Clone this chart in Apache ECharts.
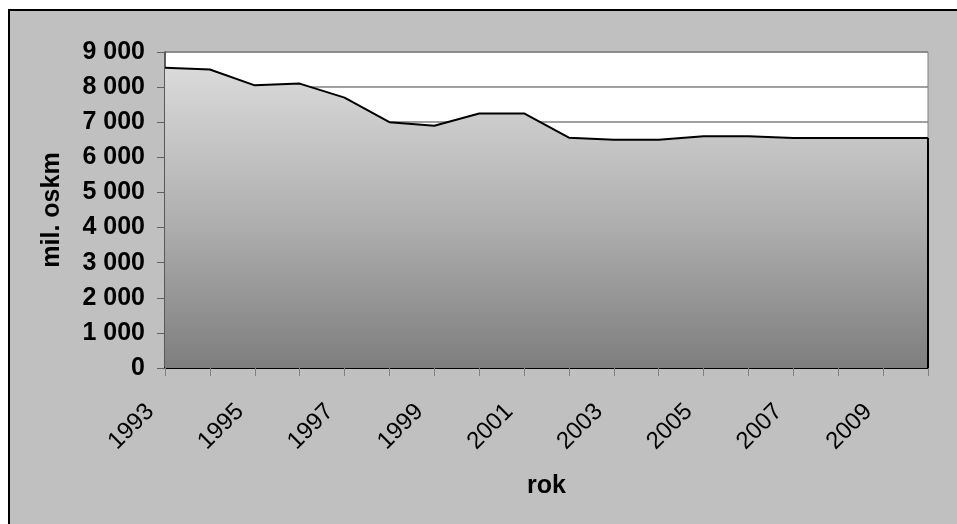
<!DOCTYPE html>
<html>
<head>
<meta charset="utf-8">
<script src="https://cdn.jsdelivr.net/npm/echarts@6/dist/echarts.min.js"></script>
<style>
  html, body { margin: 0; padding: 0; background: #ffffff; }
  #chart { width: 957px; height: 524px; }
</style>
</head>
<body>
<div id="chart"></div>
<script>
// roky a výkony (mil. oskm)
var years = ['1993', '1994', '1995', '1996', '1997', '1998', '1999', '2000', '2001',
	'2002', '2003', '2004', '2005', '2006', '2007', '2008', '2009', '2010'];
var values = [8550, 8500, 8050, 8100, 7700, 7000, 6900, 7250, 7250,
	6560, 6500, 6500, 6600, 6600, 6550, 6550, 6550, 6550];

var yMax = 9000;
var yStep = 1000;

function spaced(v) {
	return String(v).replace(/\B(?=(\d{3})+(?!\d))/g, ' ');
}

var myChart = echarts.init(document.getElementById('chart'));

var option = {
	backgroundColor: '#ffffff',
	animation: false,
	graphic: [{
		type: 'rect',
		z: -10,
		shape: { x: 9, y: 10, width: 960, height: 530 },
		style: { fill: '#c0c0c0', stroke: '#000000', lineWidth: 2 }
	}],
	grid: {
		left: 165,
		right: 29,
		top: 52,
		bottom: 156,
		show: true,
		backgroundColor: '#ffffff',
		borderColor: '#808080',
		borderWidth: 1
	},
	xAxis: {
		type: 'category',
		data: years,
		boundaryGap: false,
		name: 'rok',
		nameLocation: 'middle',
		nameGap: 106,
		nameTextStyle: { fontFamily: 'Liberation Sans', fontWeight: 'bold', fontSize: 25, color: '#000' },
		axisLine: { lineStyle: { color: '#000000', width: 2 } },
		axisTick: { show: true, interval: 0, length: 8, lineStyle: { color: '#808080' } },
		axisLabel: {
			interval: 1,
			rotate: 45,
			margin: 25,
			padding: [0, 21, 0, 0],
			fontFamily: 'Liberation Sans',
			fontSize: 24,
			color: '#000'
		},
		splitLine: { show: false }
	},
	yAxis: {
		type: 'value',
		min: 0,
		max: yMax,
		interval: yStep,
		name: 'mil. oskm',
		nameLocation: 'middle',
		nameGap: 100,
		nameTextStyle: { fontFamily: 'Liberation Sans', fontWeight: 'bold', fontSize: 25, color: '#000' },
		axisLine: { show: true, lineStyle: { color: '#404040', width: 1.5 } },
		axisTick: { show: true, length: 8, lineStyle: { color: '#606060' } },
		axisLabel: {
			margin: 20,
			fontFamily: 'Liberation Sans',
			fontWeight: 'bold',
			fontSize: 25,
			color: '#000',
			formatter: spaced
		},
		splitLine: { show: true, lineStyle: { color: '#808080', width: 1.5 } }
	},
	series: [{
		type: 'line',
		data: values,
		symbol: 'none',
		lineStyle: { color: '#000000', width: 2 },
		areaStyle: {
			opacity: 1,
			color: new echarts.graphic.LinearGradient(0, 0, 0, 1, [
				{ offset: 0, color: '#dadada' },
				{ offset: 0.5, color: '#b0b0b0' },
				{ offset: 1, color: '#7e7e7e' }
			])
		},
		markLine: {
			symbol: 'none',
			silent: true,
			label: { show: false },
			lineStyle: { color: '#000000', width: 2, type: 'solid' },
			data: [[
				{ coord: [years[years.length - 1], 0] },
				{ coord: [years[years.length - 1], values[values.length - 1]] }
			]]
		}
	}]
};

myChart.setOption(option);
</script>
</body>
</html>
